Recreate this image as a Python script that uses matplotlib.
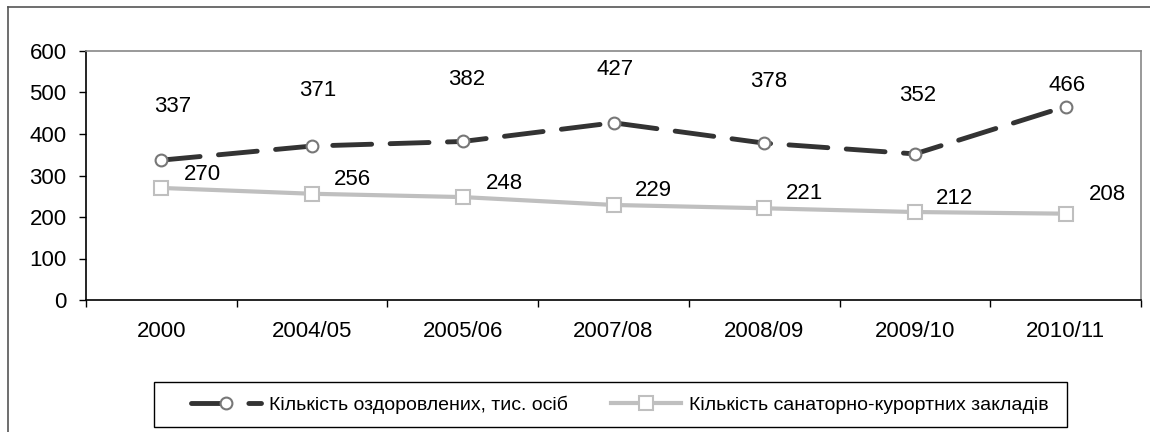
import numpy as np
import matplotlib
matplotlib.use("Agg")
import matplotlib.pyplot as plt
from matplotlib.lines import Line2D
from matplotlib.patches import Rectangle

plt.rcParams['font.family'] = ['Liberation Sans', 'DejaVu Sans']

years = ['2000', '2004/05', '2005/06', '2007/08', '2008/09', '2009/10', '2010/11']
recovered = [337, 371, 382, 427, 378, 352, 466]
sanatoria = [270, 256, 248, 229, 221, 212, 208]
name_recovered = 'Кількість оздоровлених, тис. осіб'
name_sanatoria = 'Кількість санаторно-курортних закладів'

# label offsets in pixels (dx, dy)
off_recovered = [(11, 54), (6, 56), (4, 62), (2, 53), (4, 62), (3, 58), (1, 21)]
off_sanatoria = [(41, 13), (40, 14), (42, 14), (40, 14), (40, 15), (40, 14), (42, 19)]

W, H = 1150, 432
fig = plt.figure(figsize=(W / 100, H / 100), dpi=100)
ax = fig.add_axes([86/W, 132/H, 1055/W, 249/H])

x = np.arange(len(years))
ax.plot(x, recovered, color='#333333', lw=3.5, ls=(0, (8, 3.8)), dash_capstyle='round',
        marker='o', ms=8.5, mfc='white', mec='#777777', mew=1.5, zorder=3)
ax.plot(x, sanatoria, color='#bfbfbf', lw=3, ls='-',
        marker='s', ms=10, mfc='white', mec='#bfbfbf', mew=1.5, zorder=3)

to_pt = 72 / fig.dpi
for xi, v, (dx, dy) in zip(x, recovered, off_recovered):
    ax.annotate(str(v), (xi, v), xytext=(dx * to_pt, dy * to_pt), textcoords='offset points',
                ha='center', va='center', fontsize=16)
for xi, v, (dx, dy) in zip(x, sanatoria, off_sanatoria):
    ax.annotate(str(v), (xi, v), xytext=(dx * to_pt, dy * to_pt), textcoords='offset points',
                ha='center', va='center', fontsize=16)

ax.set_xlim(-0.5, len(years) - 0.5)
ax.set_ylim(0, 600)
ax.set_yticks(range(0, 601, 100))
ax.set_xticks(x)
ax.set_xticklabels(years)
ax.set_xticks(np.arange(-0.5, len(years)), minor=True)
ax.tick_params(axis='x', which='major', length=0, pad=15, labelsize=16)
ax.tick_params(axis='x', which='minor', length=5, width=1, direction='out')
ax.tick_params(axis='y', length=5, width=1, direction='out', pad=9, labelsize=16)

ax.spines['left'].set_color('black')
ax.spines['bottom'].set_color('black')
ax.spines['top'].set_color('#888888')
ax.spines['right'].set_color('#888888')
for s in ax.spines.values():
    s.set_linewidth(1.2)

# chart-area border
fig.add_artist(Line2D([8/W, 1.01], [425/H, 425/H], color='#555555', lw=1.2))
fig.add_artist(Line2D([8/W, 8/W], [-0.01, 425/H], color='#555555', lw=1.2))

# legend box drawn separately, entries centred inside it
fig.add_artist(Rectangle((154/W, 5/H), 913/W, 45/H, transform=fig.transFigure,
                         facecolor='white', edgecolor='black', lw=1.0))
leg = fig.legend(handles=ax.get_lines(), labels=[name_recovered, name_sanatoria],
                 loc='center', bbox_to_anchor=(620/W, 27.5/H), ncol=2, frameon=False,
                 handlelength=3.6, handletextpad=0.43, columnspacing=2.2,
                 prop={'size': 14})

fig.savefig('out.png', dpi=100)
